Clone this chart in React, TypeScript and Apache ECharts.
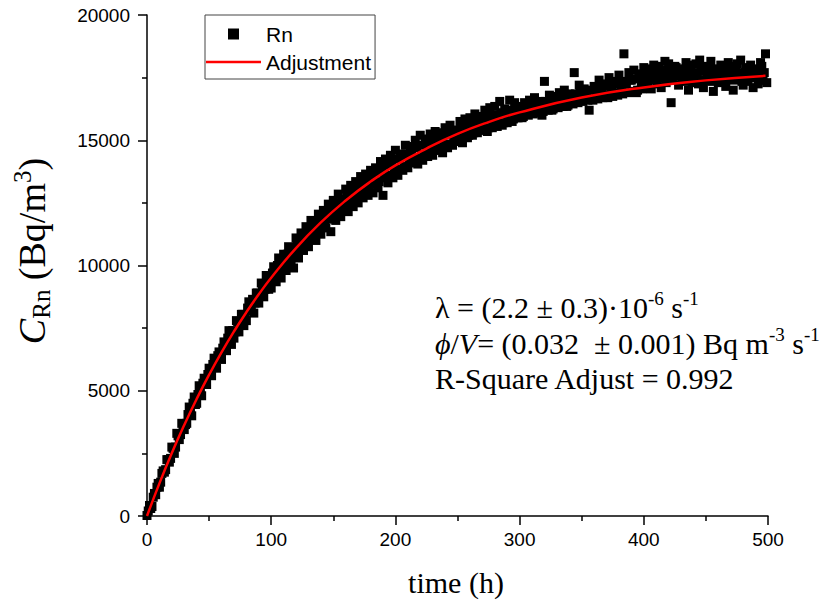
import React, { useEffect, useRef } from "react";
import * as echarts from "echarts";

// Measured radon concentration, even hours (time in h, concentration in Bq/m3)
const rnPointsEven: [number, number][] = [
  [0, 20], [2, 420], [4, 380], [6, 900], [8, 1150],
  [10, 1150], [12, 1700], [14, 1750], [16, 2250], [18, 2150],
  [20, 2750], [22, 2500], [24, 3300], [26, 3050], [28, 3700],
  [30, 3450], [32, 3700], [34, 4350], [36, 4000], [38, 4750],
  [40, 4500], [42, 5200], [44, 4800], [46, 5500], [48, 5250],
  [50, 5900], [52, 5600], [54, 6300], [56, 5900], [58, 6550],
  [60, 6250], [62, 6950], [64, 6600], [66, 7400], [68, 6850],
  [70, 7100], [72, 7800], [74, 7350], [76, 8050], [78, 7600],
  [80, 7800], [82, 8550], [84, 8200], [86, 8100], [88, 8900],
  [90, 8500], [92, 9300], [94, 8750], [96, 9600], [98, 9050],
  [100, 9100], [102, 9950], [104, 9350], [106, 10300], [108, 9500],
  [110, 10450], [112, 9800], [114, 10750], [116, 10100], [118, 9900],
  [120, 11100], [122, 10300], [124, 11300], [126, 10600], [128, 11550],
  [130, 10750], [132, 11800], [134, 11050], [136, 11000], [138, 12050],
  [140, 11250], [142, 12200], [144, 11500], [146, 12450], [148, 11350],
  [150, 12600], [152, 11800], [154, 12850], [156, 11950], [158, 12400],
  [160, 13050], [162, 12150], [164, 13200], [166, 12350], [168, 13350],
  [170, 12500], [172, 13550], [174, 12700], [176, 13650], [178, 12800],
  [180, 13800], [182, 12900], [184, 13900], [186, 13100], [188, 14150],
  [190, 12800], [192, 14250], [194, 13300], [196, 14400], [198, 13500],
  [200, 14600], [202, 13600], [204, 14450], [206, 13800], [208, 14800],
  [210, 13900], [212, 14750], [214, 14100], [216, 15000], [218, 14050],
  [220, 15200], [222, 14200], [224, 15050], [226, 14350], [228, 15250],
  [230, 14400], [232, 15350], [234, 14600], [236, 15300], [238, 14500],
  [240, 15500], [242, 14700], [244, 15600], [246, 14800], [248, 15400],
  [250, 15000], [252, 15750], [254, 14900], [256, 15850], [258, 15100],
  [260, 15900], [262, 15200], [264, 16050], [266, 15300], [268, 15950],
  [270, 15400], [272, 16200], [274, 15350], [276, 16300], [278, 15500],
  [280, 16350], [282, 15550], [284, 16550], [286, 15600], [288, 16250],
  [290, 15700], [292, 16600], [294, 15750], [296, 16500], [298, 15900],
  [300, 16350], [302, 15900], [304, 16500], [306, 16050], [308, 16600],
  [310, 16100], [312, 16700], [314, 16250], [316, 16550], [318, 16000],
  [320, 17350], [322, 16300], [324, 16800], [326, 16200], [328, 16750],
  [330, 16400], [332, 16900], [334, 16550], [336, 17000], [338, 16350],
  [340, 16850], [342, 16500], [344, 17700], [346, 16700], [348, 17200],
  [350, 16600], [352, 17050], [354, 16800], [356, 16200], [358, 16650],
  [360, 17150], [362, 16750], [364, 17400], [366, 16900], [368, 17250],
  [370, 16800], [372, 17500], [374, 17000], [376, 17350], [378, 16900],
  [380, 17600], [382, 17100], [384, 18450], [386, 17250], [388, 17700],
  [390, 17400], [392, 17800], [394, 16900], [396, 17650], [398, 17300],
  [400, 17900], [402, 17200], [404, 17750], [406, 17050], [408, 18000],
  [410, 17400], [412, 17950], [414, 17100], [416, 17800], [418, 17300],
  [420, 18050], [422, 16500], [424, 17650], [426, 17900], [428, 17200],
  [430, 17850], [432, 17350], [434, 18100], [436, 17000], [438, 17800],
  [440, 17500], [442, 18050], [444, 17250], [446, 17900], [448, 17100],
  [450, 17950], [452, 17400], [454, 18150], [456, 16950], [458, 17850],
  [460, 17300], [462, 18000], [464, 17600], [466, 17150], [468, 18100],
  [470, 17800], [472, 17000], [474, 17950], [476, 17450], [478, 18200],
  [480, 17200], [482, 17900], [484, 17350], [486, 18000], [488, 17100],
  [490, 17850], [492, 17250], [494, 18100], [496, 17400], [498, 18450],
];

// Measured radon concentration, odd hours
const rnPointsOdd: [number, number][] = [
  [1, 200], [3, 300], [5, 750], [7, 850], [9, 1300],
  [11, 1350], [13, 1800], [15, 1850], [17, 2250], [19, 2300],
  [21, 2700], [23, 2750], [25, 3200], [27, 3250], [29, 3650],
  [31, 3650], [33, 4050], [35, 4100], [37, 4500], [39, 4450],
  [41, 4850], [43, 4900], [45, 5300], [47, 5250], [49, 5650],
  [51, 5650], [53, 6050], [55, 6000], [57, 6400], [59, 6350],
  [61, 6700], [63, 6700], [65, 7100], [67, 7000], [69, 7400],
  [71, 7350], [73, 7750], [75, 7650], [77, 8050], [79, 7950],
  [81, 8300], [83, 8250], [85, 8650], [87, 8500], [89, 8900],
  [91, 8800], [93, 9200], [95, 9050], [97, 9450], [99, 9300],
  [101, 9700], [103, 9550], [105, 10000], [107, 9800], [109, 10250],
  [111, 10000], [113, 10450], [115, 10300], [117, 10700], [119, 10450],
  [121, 10900], [123, 10700], [125, 11150], [127, 10900], [129, 11350],
  [131, 11100], [133, 11550], [135, 11300], [137, 11750], [139, 11500],
  [141, 11950], [143, 11650], [145, 12150], [147, 11850], [149, 12300],
  [151, 12000], [153, 12500], [155, 12200], [157, 12650], [159, 12350],
  [161, 12850], [163, 12500], [165, 13000], [167, 12650], [169, 13150],
  [171, 12800], [173, 13300], [175, 12950], [177, 13450], [179, 13100],
  [181, 13600], [183, 13250], [185, 13750], [187, 13350], [189, 13850],
  [191, 13500], [193, 14000], [195, 13600], [197, 14100], [199, 13750],
  [201, 14250], [203, 13850], [205, 14350], [207, 13950], [209, 14450],
  [211, 14100], [213, 14550], [215, 14200], [217, 14700], [219, 14300],
  [221, 14800], [223, 14400], [225, 14850], [227, 14500], [229, 14950],
  [231, 14600], [233, 15050], [235, 14700], [237, 15150], [239, 14800],
  [241, 15250], [243, 14850], [245, 15300], [247, 14950], [249, 15400],
  [251, 15050], [253, 15500], [255, 15150], [257, 15550], [259, 15200],
  [261, 15650], [263, 15300], [265, 15750], [267, 15400], [269, 15800],
  [271, 15450], [273, 15900], [275, 15500], [277, 15950], [279, 15600],
  [281, 16000], [283, 15650], [285, 16100], [287, 15700], [289, 16150],
  [291, 15800], [293, 16200], [295, 15850], [297, 16250], [299, 15900],
  [301, 16300], [303, 15950], [305, 16350], [307, 16000], [309, 16400],
  [311, 16050], [313, 16450], [315, 16100], [317, 16500], [319, 16150],
  [321, 16550], [323, 16200], [325, 16600], [327, 16250], [329, 16650],
  [331, 16300], [333, 16700], [335, 16350], [337, 16750], [339, 16400],
  [341, 16800], [343, 16450], [345, 16850], [347, 16500], [349, 16900],
  [351, 16550], [353, 16950], [355, 16600], [357, 17000], [359, 16600],
  [361, 17050], [363, 16650], [365, 17100], [367, 16700], [369, 17150],
  [371, 16700], [373, 17200], [375, 16750], [377, 17250], [379, 16800],
  [381, 17300], [383, 16850], [385, 17350], [387, 16900], [389, 17400],
  [391, 16950], [393, 17450], [395, 17000], [397, 17500], [399, 17050],
  [401, 17600], [403, 17350], [405, 17850], [407, 17450], [409, 17700],
  [411, 17250], [413, 17650], [415, 17500], [417, 18150], [419, 17550],
  [421, 17750], [423, 17400], [425, 17950], [427, 17550], [429, 17650],
  [431, 17450], [433, 17750], [435, 17600], [437, 18000], [439, 17300],
  [441, 17700], [443, 17550], [445, 18200], [447, 17400], [449, 17750],
  [451, 17600], [453, 17850], [455, 17350], [457, 17700], [459, 17550],
  [461, 17800], [463, 17450], [465, 17900], [467, 17650], [469, 17500],
  [471, 17750], [473, 17400], [475, 18050], [477, 17650], [479, 17350],
  [481, 17700], [483, 17550], [485, 17850], [487, 17500], [489, 17800],
  [491, 17600], [493, 17400], [495, 17950], [497, 17700], [499, 17300],
];

// Fitted curve
const fitPoints: [number, number][] = [
  [0, 0], [10, 1303], [20, 2513], [30, 3634], [40, 4674], [50, 5639],
  [60, 6534], [70, 7364], [80, 8134], [90, 8849], [100, 9511],
  [120, 10697], [140, 11718], [160, 12595], [180, 13350], [200, 13999],
  [225, 14670], [250, 15253], [275, 15725], [300, 16113], [350, 16704],
  [400, 17110], [450, 17390], [498, 17572],
];

const seriesNames = ["Rn", "Adjustment"];

const annotationLines = [
  "λ = (2.2 ± 0.3)·10{sup|-6} s{sup|-1}",
  "{i|ϕ}/{i|V}= (0.032  ± 0.001) Bq m{sup|-3} s{sup|-1}",
  "R-Square Adjust = 0.992",
];

export default function App() {
  const ref = useRef<HTMLDivElement>(null);

  useEffect(() => {
    if (!ref.current) return;
    const chart = echarts.init(ref.current, null, { renderer: "svg" });
    const serif = "'Liberation Serif', 'Times New Roman', 'DejaVu Serif', serif";
    const sans = "'Liberation Sans', Arial, sans-serif";

    const axisCommon = {
      type: "value",
      axisLine: { show: true, onZero: false, lineStyle: { color: "#000", width: 1.5 } },
      axisTick: { show: true, inside: false, length: 9, lineStyle: { color: "#000", width: 1.5 } },
      minorTick: { show: true, splitNumber: 2, length: 5, lineStyle: { color: "#000", width: 1.5 } },
      splitLine: { show: false },
      minorSplitLine: { show: false },
    };

    chart.setOption({
      animation: false,
      backgroundColor: "#ffffff",
      grid: { left: 147, top: 15, width: 621, height: 501 },
      xAxis: {
        ...axisCommon,
        min: 0,
        max: 500,
        interval: 100,
        axisLabel: { color: "#000", fontFamily: sans, fontSize: 19, margin: 14, formatter: (v: number) => String(v) },
      },
      yAxis: {
        ...axisCommon,
        min: 0,
        max: 20000,
        interval: 5000,
        axisLabel: { color: "#000", fontFamily: sans, fontSize: 19, margin: 17, formatter: (v: number) => String(v) },
      },
      legend: {
        left: 205,
        top: 15,
        orient: "vertical",
        itemWidth: 55,
        itemHeight: 11,
        itemGap: 0,
        padding: [5, 4, 3, 1],
        borderColor: "#444",
        borderWidth: 1,
        textStyle: { fontFamily: sans, fontSize: 21, color: "#000", lineHeight: 28 },
        data: [
          { name: seriesNames[0], icon: "path://M0,0H10V10H0Z", itemStyle: { color: "#000", opacity: 1 } },
          { name: seriesNames[1], icon: "path://M0,0H55V2.5H0Z", itemStyle: { color: "#ff0000" } },
        ],
      },
      series: [
        {
          name: seriesNames[0],
          type: "scatter",
          symbol: "rect",
          symbolSize: 9,
          itemStyle: { color: "#000", opacity: 1 },
          data: [...rnPointsEven, ...rnPointsOdd],
          z: 2,
        },
        {
          name: seriesNames[1],
          type: "line",
          smooth: true,
          symbol: "none",
          showSymbol: false,
          itemStyle: { color: "#ff0000" },
          lineStyle: { color: "#ff0000", width: 2.5 },
          data: fitPoints,
          z: 3,
        },
      ],
      graphic: [
        {
          type: "text",
          x: 32,
          y: 251,
          rotation: Math.PI / 2,
          style: {
            text: "{c|C}{s|Rn}{n| (Bq/m}{p|3}{n|)}",
            fill: "#000",
            align: "center",
            verticalAlign: "middle",
            textAlign: "center",
            textVerticalAlign: "middle",
            rich: {
              c: { fontFamily: serif, fontSize: 38, fontStyle: "italic", lineHeight: 44, fill: "#000" },
              n: { fontFamily: serif, fontSize: 38, lineHeight: 44, fill: "#000" },
              s: { fontFamily: serif, fontSize: 25, lineHeight: 25, verticalAlign: "bottom", fill: "#000" },
              p: { fontFamily: serif, fontSize: 25, lineHeight: 25, verticalAlign: "top", fill: "#000" },
            },
          },
        },
        {
          type: "text",
          x: 456,
          y: 582,
          style: {
            text: "time (h)",
            fill: "#000",
            font: `30px ${serif}`,
            align: "center",
            verticalAlign: "middle",
            textAlign: "center",
            textVerticalAlign: "middle",
          },
        },
        ...annotationLines.map((line, i) => ({
          type: "text",
          x: 435,
          y: [307, 343, 378][i],
          style: {
            text: line,
            fill: "#000",
            fontFamily: serif,
            fontSize: 30,
            lineHeight: 36,
            align: "left",
            verticalAlign: "middle",
            textAlign: "left",
            textVerticalAlign: "middle",
            rich: {
              sup: { fontFamily: serif, fontSize: 19, lineHeight: 19, verticalAlign: "top", fill: "#000" },
              i: { fontFamily: serif, fontSize: 30, lineHeight: 36, fontStyle: "italic", fill: "#000" },
            },
          },
        })),
      ],
    });

    return () => {
      chart.dispose();
    };
  }, []);

  return (
    <div
      ref={ref}
      style={{ position: "fixed", left: 0, top: 0, width: 827, height: 607, background: "#fff" }}
    />
  );
}
